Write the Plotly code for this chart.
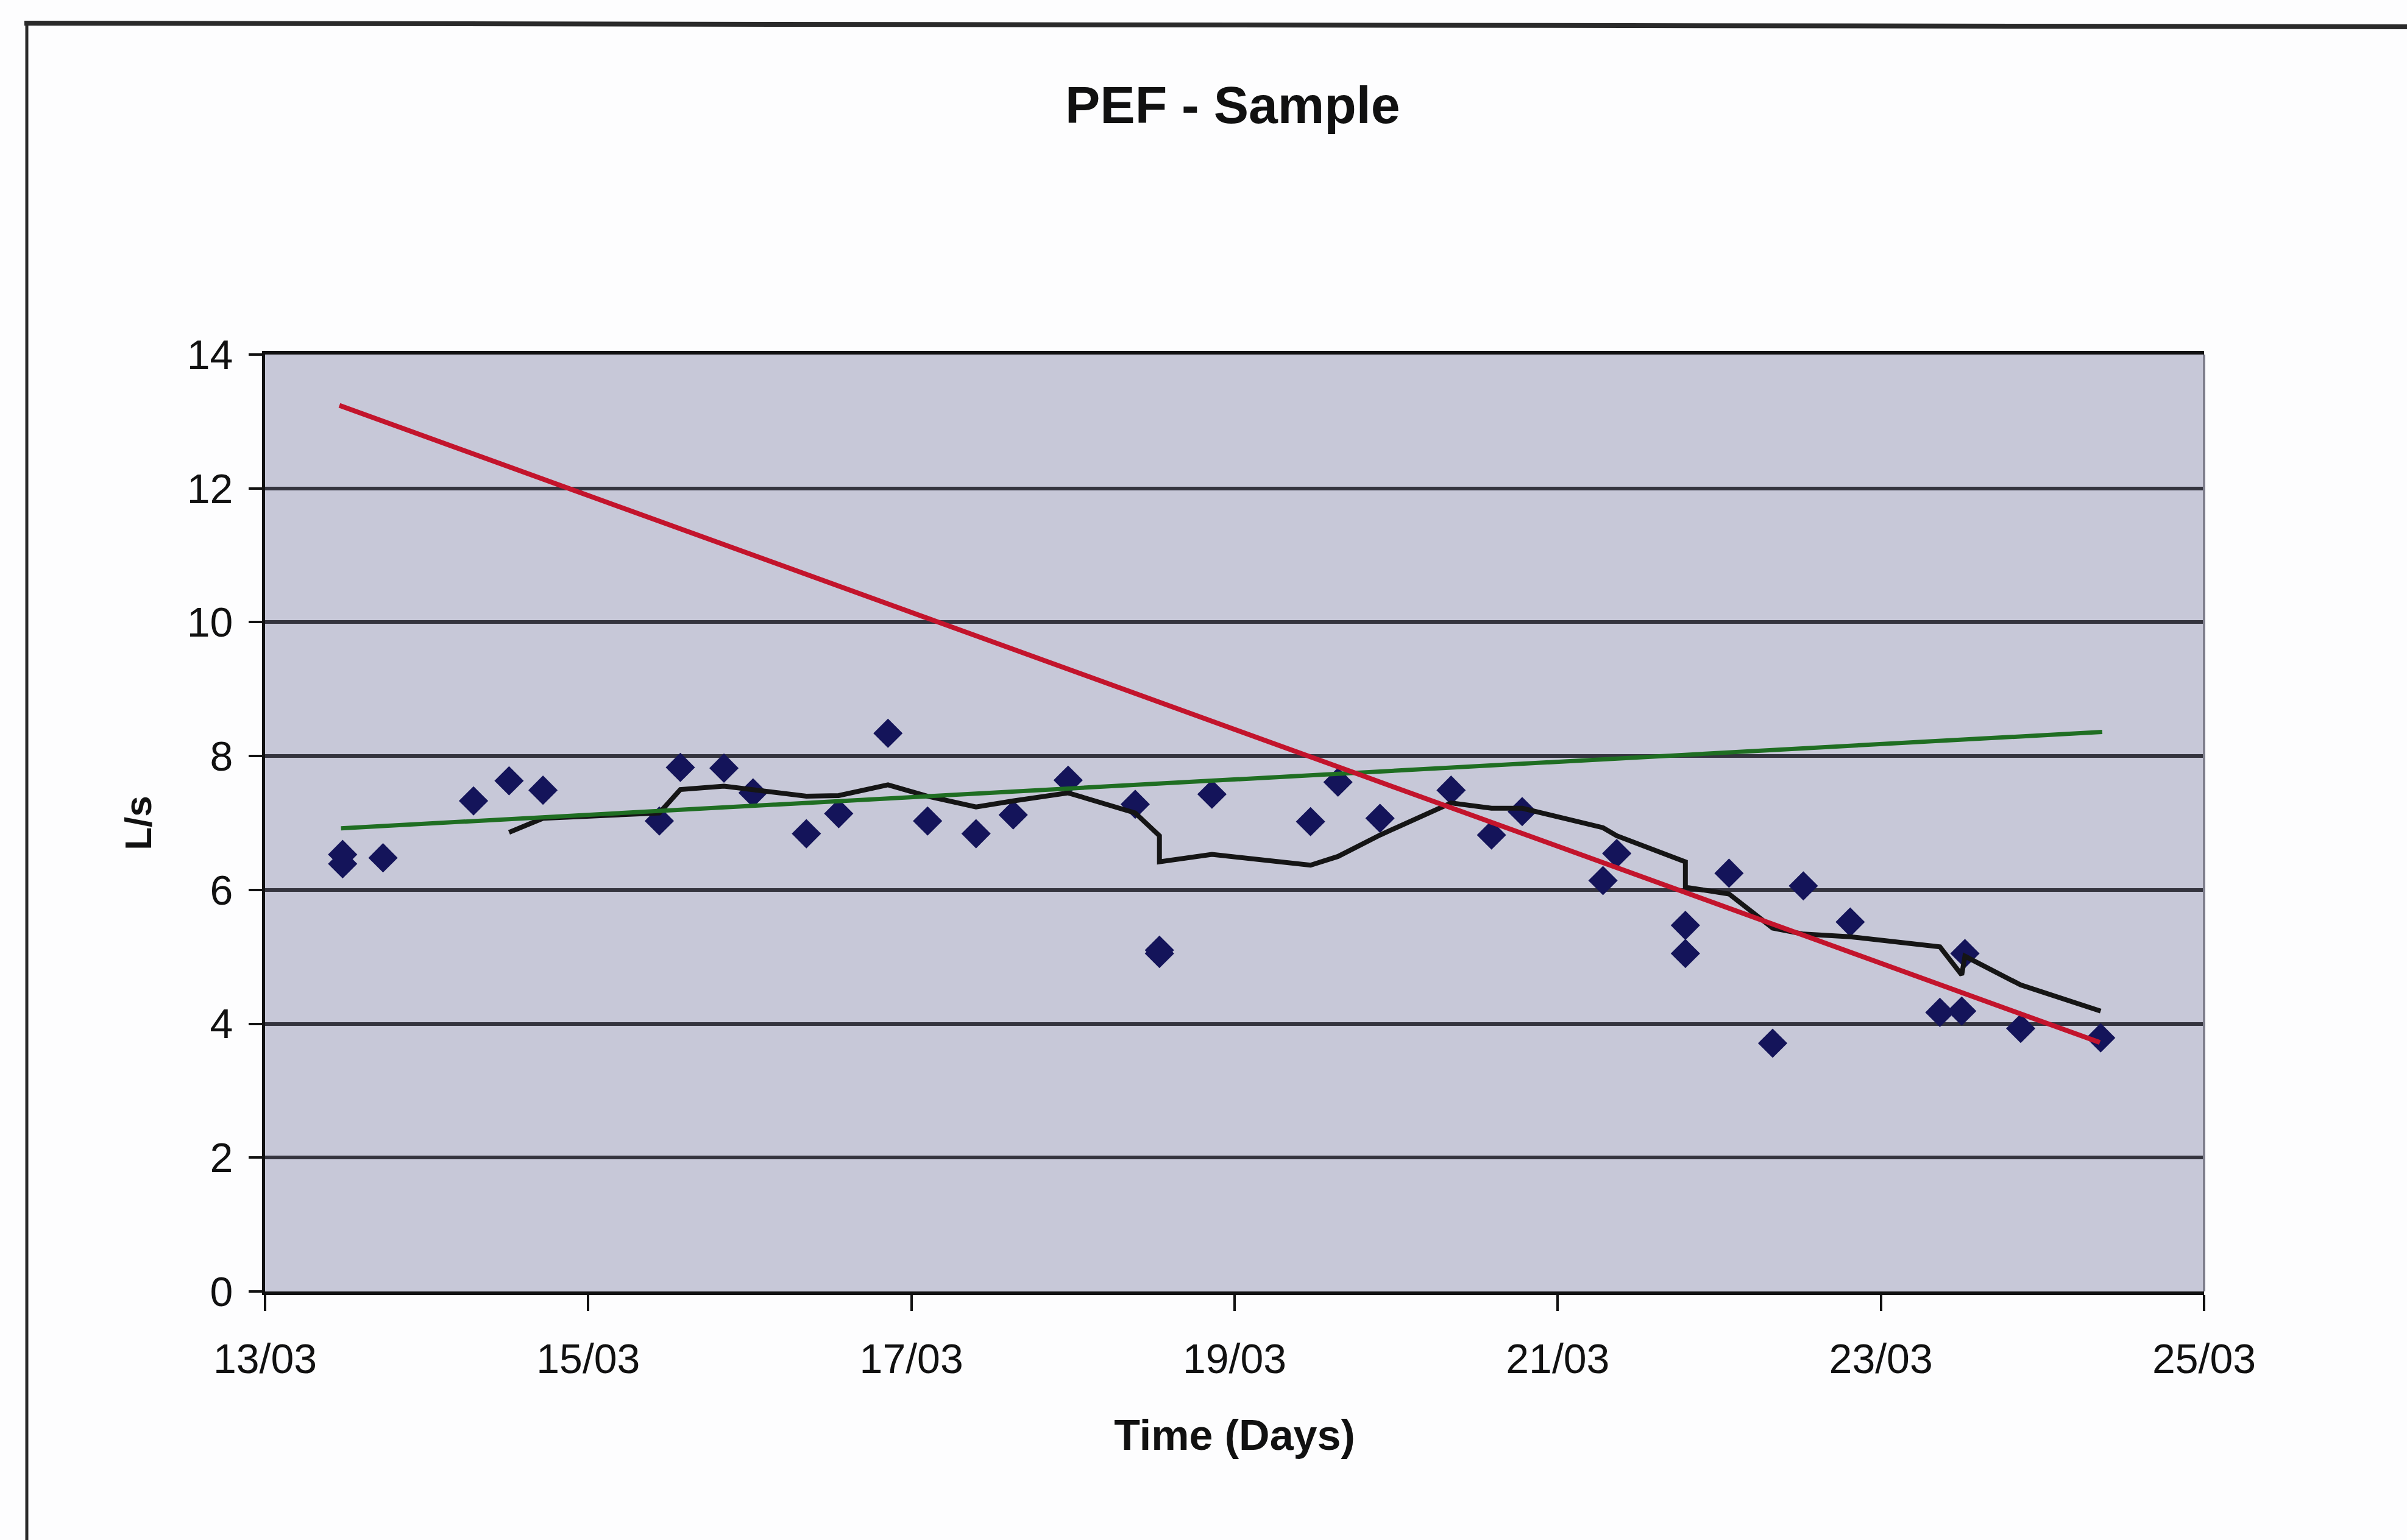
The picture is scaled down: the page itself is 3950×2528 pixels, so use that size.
import plotly.graph_objects as go

# ---- data (x = day of March, fractional) ----
days = [13.48, 13.48, 13.73, 14.29, 14.51, 14.72, 15.44, 15.57, 15.84, 16.02,
        16.35, 16.55, 16.855, 17.10, 17.40, 17.63, 17.97, 18.385, 18.535, 18.535,
        18.86, 19.47, 19.64, 19.90, 20.34, 20.59, 20.78, 21.28, 21.365, 21.79,
        21.79, 22.06, 22.33, 22.52, 22.81, 23.365, 23.50, 23.52, 23.865, 24.36]
pef = [6.53, 6.39, 6.48, 7.33, 7.63, 7.49, 7.03, 7.83, 7.82, 7.45,
       6.84, 7.14, 8.34, 7.03, 6.84, 7.12, 7.64, 7.28, 5.10, 5.05,
       7.43, 7.02, 7.61, 7.07, 7.49, 6.82, 7.17, 6.14, 6.545, 5.47,
       5.05, 6.25, 3.71, 6.06, 5.52, 4.17, 4.19, 5.05, 3.93, 3.79]

# moving-average trend line (vertices, starts at 5th point)
ma_days = days[4:]
ma_vals = [6.86, 7.07, 7.15, 7.50, 7.55, 7.50, 7.40, 7.41, 7.57, 7.40,
           7.24, 7.33, 7.45, 7.15, 6.81, 6.42, 6.53, 6.37, 6.50, 6.82,
           7.30, 7.22, 7.22, 6.93, 6.81, 6.42, 6.04, 5.94, 5.43, 5.34,
           5.30, 5.15, 4.73, 5.01, 4.58, 4.19]

green_x = [13.47, 24.37]
green_y = [6.92, 8.36]
red_x = [13.46, 24.355]
red_y = [13.24, 3.72]

tick_vals = [13, 15, 17, 19, 21, 23, 25]
tick_text = ["13/03", "15/03", "17/03", "19/03", "21/03", "23/03", "25/03"]
y_ticks = [0, 2, 4, 6, 8, 10, 12, 14]

FONT = "Liberation Sans, Arial, sans-serif"

fig = go.Figure()
fig.add_trace(go.Scatter(x=days, y=pef, mode="markers",
                         marker=dict(symbol="diamond", size=37, color="#14145a",
                                     line=dict(width=0)),
                         showlegend=False))
fig.add_trace(go.Scatter(x=ma_days, y=ma_vals, mode="lines",
                         line=dict(color="#151515", width=8), showlegend=False))
fig.add_trace(go.Scatter(x=green_x, y=green_y, mode="lines",
                         line=dict(color="#1f6e22", width=7), showlegend=False))
fig.add_trace(go.Scatter(x=red_x, y=red_y, mode="lines",
                         line=dict(color="#c3142c", width=8), showlegend=False))

L, R, T, B = 435, 333, 582, 408
W, H = 3950, 2528
pw = W - L - R
ph = H - T - B

def px_x(p):
    return (p - L) / pw

def px_y(p):
    return (H - B - p) / ph

fig.update_layout(
    width=W, height=H,
    margin=dict(l=L, r=R, t=T, b=B),
    paper_bgcolor="#fdfdfe",
    plot_bgcolor="#c7c8d8",
    font=dict(family=FONT, color="#111111", size=66),
    title=dict(text="<b>PEF - Sample</b>", x=(803 * 2.519) / W, xanchor="center",
               y=1 - (172 / H), yanchor="middle",
               font=dict(family=FONT, size=86, color="#111111")),
    xaxis=dict(range=[13, 25], tickvals=tick_vals, ticktext=tick_text,
               showgrid=False, zeroline=False,
               showline=True, linecolor="#111111", linewidth=6, mirror=True,
               ticks="outside", ticklen=26, tickwidth=4, tickcolor="#111111",
               ticklabelstandoff=20,
               tickfont=dict(size=68),
               title=dict(text="<b>Time (Days)</b>", font=dict(size=70), standoff=66)),
    yaxis=dict(range=[0, 14], tickvals=y_ticks, showgrid=True,
               gridcolor="#34343e", gridwidth=6, zeroline=False,
               showline=True, linecolor="#111111", linewidth=5,
               ticks="outside", ticklen=22, tickwidth=4, tickcolor="#111111",
               ticklabelstandoff=12,
               tickfont=dict(size=68),
               title=dict(text="<b>L/s</b>", font=dict(size=62), standoff=40)),
    shapes=[
        # right edge of the plot area
        dict(type="line", xref="paper", yref="paper", x0=1, x1=1, y0=0, y1=1,
             line=dict(color="#80808e", width=4)),
        # outer chart frame (top and left edges, runs off the page)
        dict(type="line", xref="paper", yref="paper", x0=px_x(40), x1=px_x(W + 20),
             y0=px_y(38), y1=px_y(44), line=dict(color="#2a2a2a", width=8)),
        dict(type="line", xref="paper", yref="paper", x0=px_x(44), x1=px_x(44),
             y0=px_y(38), y1=px_y(H + 20), line=dict(color="#2a2a2a", width=5)),
    ],
)

fig.write_html("out.html")
